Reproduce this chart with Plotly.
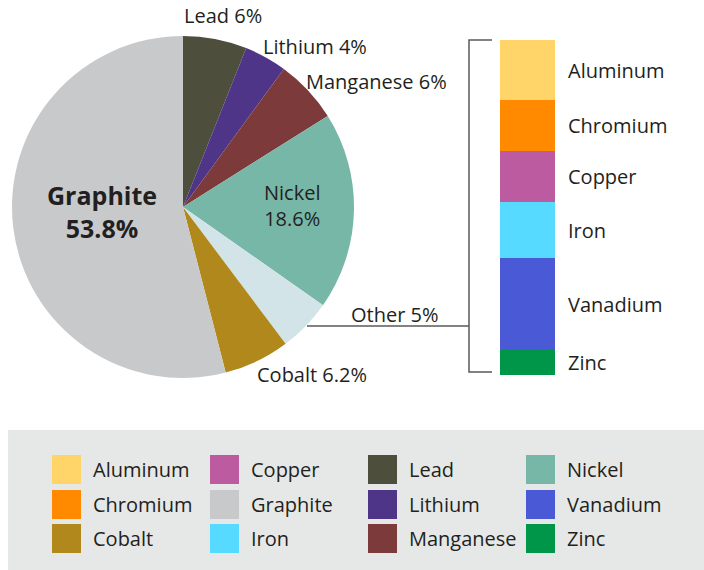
import plotly.graph_objects as go

# --- DATA ---
pie_labels = ["Lead", "Lithium", "Manganese", "Nickel", "Other", "Cobalt", "Graphite"]
pie_values = [6, 4, 6, 18.6, 5, 6.2, 53.8]
pie_colors = ["#4d4f3c", "#4e3587", "#7d3a3a", "#77b7a7", "#d3e4e8", "#b0881b", "#c8c9cb"]

other_labels = ["Aluminum", "Chromium", "Copper", "Iron", "Vanadium", "Zinc"]
other_values = [0.9, 0.76, 0.76, 0.84, 1.37, 0.37]
other_colors = ["#ffd56a", "#ff8a00", "#bc5ba0", "#56daff", "#4a59d5", "#00964a"]

# --- THEME ---
W, H = 704, 570
TEXT_COLOR = "#231f20"
LINE_COLOR = "#58595b"
LEGEND_BG = "#e6e8e7"
FONT = "Open Sans"
LABEL_SIZE = 20


def px(x):
    return x / W


def py(y):
    return 1 - y / H


fig = go.Figure()

# pie
fig.add_trace(
    go.Pie(
        labels=pie_labels,
        values=pie_values,
        marker=dict(colors=pie_colors, line=dict(width=0)),
        sort=False,
        direction="clockwise",
        rotation=0,
        textinfo="none",
        hoverinfo="label+value",
        domain=dict(x=[px(12), px(354)], y=[py(378), py(36)]),
        showlegend=False,
    )
)

# stacked bar for "Other"
for lab, val, col in zip(other_labels, other_values, other_colors):
    fig.add_trace(
        go.Bar(
            x=[0],
            y=[val],
            name=lab,
            marker=dict(color=col, line=dict(width=0)),
            width=1,
            showlegend=False,
        )
    )

annotations = []

# bar labels at segment centres
cum = 0
for lab, val in zip(other_labels, other_values):
    annotations.append(dict(
        x=px(566), xref="paper", y=cum + val / 2, yref="y",
        text=lab, showarrow=False, xanchor="left", yanchor="middle",
        font=dict(size=LABEL_SIZE, color=TEXT_COLOR),
    ))
    cum += val

# pie labels
pie_text = [
    ("Lead 6%", 223, 16),
    ("Lithium 4%", 315, 46),
    ("Manganese 6%", 376, 81),
    ("Nickel<br>18.6%", 292, 205),
    ("Other 5%", 395, 314),
    ("Cobalt 6.2%", 312, 374),
]
for t, x, y in pie_text:
    annotations.append(dict(
        x=px(x), y=py(y), xref="paper", yref="paper", text=t,
        showarrow=False, xanchor="center", yanchor="middle",
        font=dict(size=LABEL_SIZE, color=TEXT_COLOR),
    ))
annotations.append(dict(
    x=px(102), y=py(211), xref="paper", yref="paper",
    text="<b>Graphite<br>53.8%</b>", showarrow=False,
    xanchor="center", yanchor="middle",
    font=dict(size=25, color=TEXT_COLOR),
))

shapes = []
# connector + bracket
shapes.append(dict(type="line", xref="paper", yref="paper",
                   x0=px(307), x1=px(469), y0=py(326), y1=py(326),
                   line=dict(color=LINE_COLOR, width=1.5)))
shapes.append(dict(type="path", xref="paper", yref="paper",
                   path=f"M {px(492)} {py(40)} L {px(469)} {py(40)} L {px(469)} {py(372)} L {px(492)} {py(372)}",
                   line=dict(color=LINE_COLOR, width=1.5)))

# legend box
shapes.append(dict(type="rect", xref="paper", yref="paper",
                   x0=px(8), x1=px(704), y0=py(570), y1=py(430),
                   fillcolor=LEGEND_BG, line=dict(width=0), layer="below"))

color_map = dict(zip(pie_labels + other_labels, pie_colors + other_colors))
legend_names = sorted(n for n in color_map if n != "Other")
col_x = [52, 210, 368, 526]
row_y = [455, 490, 524]
for i, name in enumerate(legend_names):
    c, r = divmod(i, 3)
    x0, y0 = col_x[c], row_y[r]
    shapes.append(dict(type="rect", xref="paper", yref="paper",
                       x0=px(x0), x1=px(x0 + 29), y0=py(y0 + 29), y1=py(y0),
                       fillcolor=color_map[name], line=dict(width=0)))
    annotations.append(dict(
        x=px(x0 + 39), y=py(y0 + 14.5), xref="paper", yref="paper",
        text=name, showarrow=False, xanchor="left", yanchor="middle",
        font=dict(size=LABEL_SIZE, color=TEXT_COLOR),
    ))

fig.update_layout(
    width=W,
    height=H,
    paper_bgcolor="white",
    plot_bgcolor="rgba(0,0,0,0)",
    margin=dict(l=0, r=0, t=0, b=0),
    font=dict(family=FONT, color=TEXT_COLOR),
    barmode="stack",
    bargap=0,
    xaxis=dict(domain=[px(500), px(555)], range=[-0.5, 0.5], visible=False, fixedrange=True),
    yaxis=dict(domain=[py(375), py(40)], range=[sum(other_values), 0], visible=False, fixedrange=True),
    annotations=annotations,
    shapes=shapes,
)

# drop the default 8px body margin so the figure fills the window exactly
fig.write_html(
    "out.html",
    config={"displayModeBar": False},
    post_script="document.body.style.margin='0';document.body.style.overflow='hidden';",
)
